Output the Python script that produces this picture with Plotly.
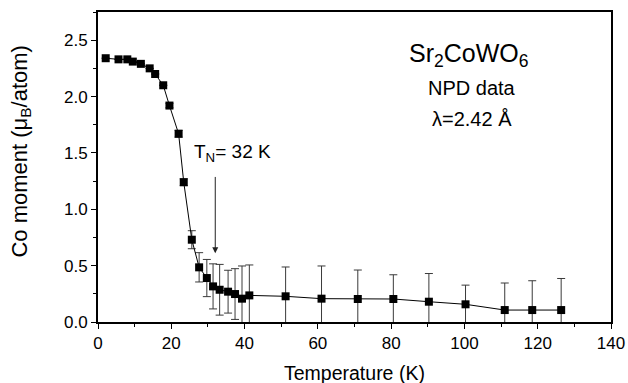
import plotly.graph_objects as go

temperature = [2.1, 5.6, 8.0, 9.5, 11.7, 14.1, 15.6, 17.8, 19.5, 22.0, 23.4, 25.6, 27.6,
               29.7, 31.4, 33.2, 35.5, 37.4, 39.3, 41.3, 51.2, 61.0, 70.9, 80.6, 90.3,
               100.3, 111.0, 118.5, 126.4]
moment = [2.34, 2.33, 2.33, 2.31, 2.29, 2.25, 2.20, 2.10, 1.92, 1.67, 1.24, 0.73, 0.485,
          0.39, 0.316, 0.286, 0.269, 0.248, 0.207, 0.236, 0.228, 0.207, 0.204, 0.204, 0.18,
          0.157, 0.106, 0.106, 0.106]
error = [0.0, 0.0, 0.0, 0.0, 0.0, 0.0, 0.0, 0.0, 0.02, 0.03, 0.03, 0.08, 0.13,
         0.165, 0.2, 0.225, 0.19, 0.225, 0.29, 0.27, 0.26, 0.29, 0.257, 0.215, 0.25,
         0.17, 0.24, 0.26, 0.28]

x_ticks = [0, 20, 40, 60, 80, 100, 120, 140]
y_ticks = [0.0, 0.5, 1.0, 1.5, 2.0, 2.5]
y_tick_labels = ["0.0", "0.5", "1.0", "1.5", "2.0", "2.5"]

FONT = "Arial, Liberation Sans, sans-serif"

fig = go.Figure()
fig.add_trace(go.Scatter(
    x=temperature, y=moment, mode="lines+markers",
    line=dict(color="black", width=1),
    marker=dict(symbol="square", size=8, color="black"),
    error_y=dict(type="data", array=error, visible=True, color="#3a3a3a",
                 thickness=1, width=4),
    showlegend=False, cliponaxis=True,
))

def label(x, y, text, size, **kw):
    fig.add_annotation(x=x, y=y, xref="paper", yref="paper", text=text,
                       showarrow=False, xanchor="center", yanchor="middle",
                       font=dict(family=FONT, size=size, color="black"), **kw)

# axis titles
label(0.5, -0.165, "Temperature (K)", 19.5)
label(-0.152, 0.55, "Co moment (μ<sub>B</sub>/atom)", 22, textangle=-90)

# inset labels
label(0.723, 0.862, "Sr<sub>2</sub>CoWO<sub>6</sub>", 25)
label(0.729, 0.756, "NPD data", 20)
label(0.729, 0.656, "λ=2.42 Å", 20)

fig.add_annotation(x=32, y=0.61, ax=32, ay=1.30, xref="x", yref="y", axref="x", ayref="y",
                   text="", showarrow=True, arrowhead=2, arrowsize=1.2, arrowwidth=1,
                   arrowcolor="#222222")
fig.add_annotation(x=36.7, y=1.50, xref="x", yref="y", xanchor="center", yanchor="middle",
                   text="T<sub>N</sub>= 32 K", showarrow=False,
                   font=dict(family=FONT, size=19, color="black"))

axis_common = dict(showline=True, linecolor="black", linewidth=2, mirror=True,
                   ticks="outside", ticklen=5, tickwidth=1, tickcolor="black",
                   showgrid=False, zeroline=False, automargin=False,
                   tickfont=dict(family=FONT, size=17, color="black"))

fig.update_xaxes(range=[0, 140], tickvals=x_ticks,
                 minor=dict(dtick=10, ticks="outside", ticklen=3, tickcolor="black"),
                 **axis_common)
fig.update_yaxes(range=[0, 2.75], tickvals=y_ticks, ticktext=y_tick_labels,
                 minor=dict(dtick=0.25, ticks="outside", ticklen=3, tickcolor="black"),
                 **axis_common)

fig.update_layout(width=628, height=383, margin=dict(l=98, r=17, t=12, b=61),
                  plot_bgcolor="white", paper_bgcolor="white")

fig.write_html("out.html")
